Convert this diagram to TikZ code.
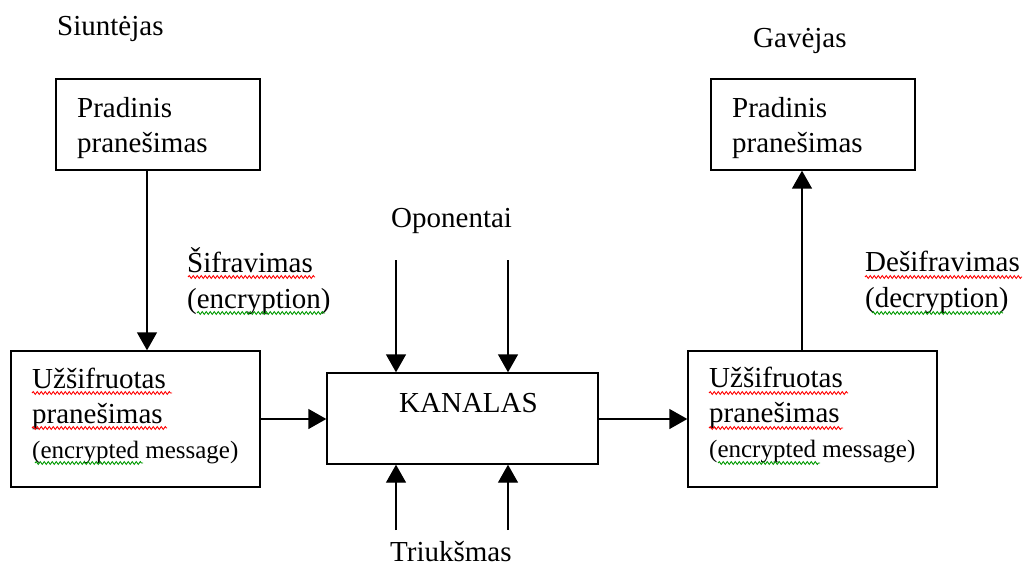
\documentclass[tikz,border=0pt]{standalone}
\usepackage{fontspec}
\setmainfont{Liberation Serif}
\usetikzlibrary{arrows.meta,decorations.pathmorphing}
\begin{document}
\begin{tikzpicture}[x=1pt,y=-1pt,
  box/.style={draw,line width=1.4pt,rectangle,inner sep=0pt},
  lbl/.style={anchor=base west,inner sep=0pt,font=\fontsize{29}{35}\selectfont},
  sml/.style={anchor=base west,inner sep=0pt,font=\fontsize{25}{30}\selectfont},
  arr/.style={line width=1.4pt,-{Triangle[width=20pt,length=18pt]}},
  redsq/.style={draw=red,line width=0.9pt,decorate,decoration={snake,amplitude=1.4pt,segment length=4pt}},
  grnsq/.style={draw=green!60!black,line width=0.9pt,decorate,decoration={snake,amplitude=1.4pt,segment length=4pt}}]
\useasboundingbox (0,0) rectangle (1024,569);
% boxes
\node[box,minimum width=204pt,minimum height=91pt] (src) at (158,124.5) {};
\node[box,minimum width=249pt,minimum height=136pt] (encl) at (135.5,419) {};
\node[box,minimum width=271pt,minimum height=91pt] (kan) at (462.5,418.5) {};
\node[box,minimum width=249pt,minimum height=136pt] (encr) at (812.5,419) {};
\node[box,minimum width=204pt,minimum height=91pt] (dst) at (813,124.5) {};
% texts
\node[lbl] (siunt) at (57,36) {Siuntėjas};
\node[lbl] (gav) at (753,48) {Gavėjas};
\node[lbl] (s1) at (77,118) {Pradinis};
\node[lbl] (s2) at (77,153) {pranešimas};
\node[lbl] (d1) at (732,118) {Pradinis};
\node[lbl] (d2) at (732,153) {pranešimas};
\node[lbl] (sif1) at (187,272) {Šifravimas};
\node[lbl] (sif2) at (187,308) {(encryption)};
\node[lbl] (des1) at (865,271) {Dešifravimas};
\node[lbl] (des2) at (865,307) {(decryption)};
\node[lbl] (el1) at (32,388) {Užšifruotas};
\node[lbl] (el2) at (32,423) {pranešimas};
\node[sml] (el3) at (32,458) {(encrypted message)};
\node[lbl] (er1) at (709,387) {Užšifruotas};
\node[lbl] (er2) at (709,422) {pranešimas};
\node[sml] (er3) at (709,457) {(encrypted message)};
\node[lbl] (kant) at (399,412) {KANALAS};
\node[lbl] (opo) at (391,228) {Oponentai};
\node[lbl] (triu) at (390,561) {Triukšmas};
% spell-check squiggles
\draw[redsq] (188,277) -- (315,277);
\draw[grnsq] (197,313) -- (325,313);
\draw[redsq] (865,277) -- (1022,277);
\draw[grnsq] (872,313) -- (1003,313);
\draw[redsq] (32,393) -- (172,393);
\draw[redsq] (32,428) -- (167,428);
\draw[grnsq] (35,463) -- (143,463);
\draw[redsq] (709,393) -- (848,393);
\draw[redsq] (709,428) -- (843,428);
\draw[grnsq] (718,463) -- (820,463);
% connectors
\coordinate (c1) at (147,0);
\coordinate (c2) at (802,0);
\coordinate (o1) at (396,260);
\coordinate (o2) at (508,260);
\coordinate (t1) at (396,530);
\coordinate (t2) at (508,530);
\draw[arr] (c1 |- src.south) -- (c1 |- encl.north);
\draw[arr] (encl.east) -- (kan.west |- encl.east);
\draw[arr] (kan.east |- encl.east) -- (encr.west);
\draw[arr] (c2 |- encr.north) -- (c2 |- dst.south);
\draw[arr] (o1) -- (o1 |- kan.north);
\draw[arr] (o2) -- (o2 |- kan.north);
\draw[arr] (t1) -- (t1 |- kan.south);
\draw[arr] (t2) -- (t2 |- kan.south);
\end{tikzpicture}
\end{document}
